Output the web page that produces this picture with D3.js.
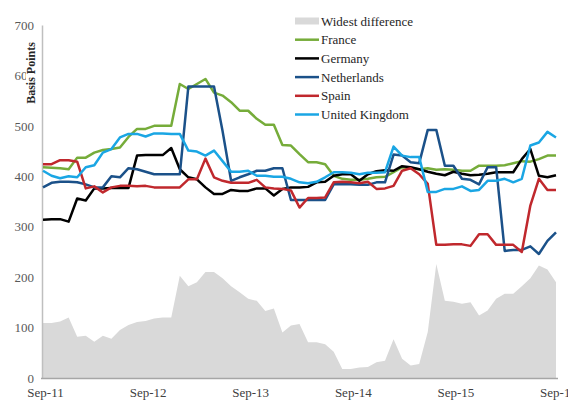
<!DOCTYPE html>
<html>
<head>
<meta charset="utf-8">
<script src="https://cdn.jsdelivr.net/npm/d3@7"></script>
<style>
  body { margin: 0; background: #fff; }
  svg text { font-family: "Liberation Serif", "DejaVu Serif", serif; }
</style>
</head>
<body>
<div id="container"></div>
<script>
// monthly values, Sep-11 .. Sep-16 (61 points), basis points
const tickLabels = ["Sep-11", "Sep-12", "Sep-13", "Sep-14", "Sep-15", "Sep-16"];
const tickMonths = [0, 12, 24, 36, 48, 60];
const yTicks = [0, 100, 200, 300, 400, 500, 600, 700];

const widest = [109,109,112,120,82,84,72,84,78,95, 105,111,113,118,120,120,203,182,190,210,
  210,198,182,170,157,153,133,138,90,104, 107,71,71,67,52,18,18,21,22,31,
  34,77,38,25,28,91,226,153,151,147, 150,124,134,157,167,167,182,198,223,215, 190];
const france = [418,417,416,414,437,437,447,452,454,457, 478,494,494,500,500,500,583,573,583,593,
  566,560,547,530,530,514,502,502,462,461, 444,428,428,424,401,395,393,393,395,398,
  399,408,418,416,414,416,413,414,413,411, 411,421,421,421,422,426,430,429,434,441, 441];
const germany = [314,315,315,310,356,352,376,376,377,377, 377,441,442,442,442,456,414,398,394,378,
  365,365,373,371,371,376,376,362,375,378, 378,379,388,389,401,404,404,391,404,410,
  412,411,420,418,414,409,405,402,409,405, 402,403,405,408,408,408,434,454,401,398, 402];
const netherlands = [378,387,389,389,388,384,378,378,400,398, 416,414,409,404,404,404,404,578,578,578,
  578,490,391,398,404,411,411,416,416,353, 353,353,353,353,384,384,384,383,383,388,
  388,443,441,428,426,492,492,421,421,395, 393,384,418,418,252,254,254,261,246,272, 289];
const spain = [424,424,432,432,429,376,380,368,378,381, 381,380,381,378,378,378,378,394,394,435,
  398,391,387,387,387,393,378,376,375,372, 338,357,357,358,388,389,388,386,389,375,
  376,381,411,416,404,385,264,264,265,265, 262,285,285,264,264,264,250,342,395,373, 373];
const uk = [411,401,396,400,398,418,422,447,454,477, 484,484,479,485,485,484,484,451,449,441,
  451,430,409,409,411,401,401,399,399,395, 388,386,389,398,408,408,407,404,407,407,
  408,459,441,438,438,369,369,375,375,380, 371,373,391,391,395,388,395,461,467,488, 477];

const seriesNames = ["France", "Germany", "Netherlands", "Spain", "United Kingdom"];
const seriesData = [france, germany, netherlands, spain, uk];
const seriesColors = ["#76AC3A", "#000000", "#1B5189", "#C0282D", "#1AA6E4"];

const W = 568, H = 402;
const svg = d3.select("#container").append("svg")
  .attr("width", W).attr("height", H);

const x = d3.scaleLinear().domain([0, 60]).range([43, 556]);
const y = d3.scaleLinear().domain([0, 700]).range([378, 25]);

// shaded area
const area = d3.area()
  .x((d, i) => x(i))
  .y0(y(0))
  .y1(d => y(d));

svg.append("path")
  .datum(widest)
  .attr("d", area)
  .attr("fill", "#D9D9D9");

// axes
const yAxis = svg.append("g")
  .attr("transform", "translate(42,0)")
  .call(d3.axisLeft(y).tickValues(yTicks).tickSize(0).tickPadding(8));
yAxis.select(".domain").attr("stroke", "#BFBFBF").attr("stroke-width", 1.5);
yAxis.selectAll("text")
  .style("font-size", "13px")
  .attr("fill", "#595959");

const xAxis = svg.append("g")
  .attr("transform", "translate(0,378.5)")
  .call(d3.axisBottom(x).tickValues(tickMonths)
    .tickFormat((d, i) => tickLabels[i])
    .tickSize(0).tickPadding(9));
xAxis.select(".domain").attr("stroke", "#A6A6A6").attr("stroke-width", 1.5)
  .attr("d", "M41,0H558");
xAxis.selectAll("text")
  .style("font-size", "13px")
  .attr("dx", 2)
  .attr("fill", "#404040");

// lines
const line = d3.line()
  .x((d, i) => x(i))
  .y(d => y(d));

seriesData.forEach((s, k) => {
  svg.append("path")
    .datum(s)
    .attr("d", line)
    .attr("fill", "none")
    .attr("stroke", seriesColors[k])
    .attr("stroke-width", 2.5)
    .attr("stroke-linejoin", "round");
});

// axis title over the 600 label
svg.append("rect")
  .attr("x", 26).attr("y", 36)
  .attr("width", 12).attr("height", 74)
  .attr("fill", "#fff");
svg.append("text")
  .attr("transform", "translate(35,73) rotate(-90)")
  .attr("text-anchor", "middle")
  .style("font-size", "12px")
  .style("font-weight", "bold")
  .attr("fill", "#262626")
  .text("Basis Points");

// legend
const lg = svg.append("g").attr("transform", "translate(295,0)");
const rowY = d3.range(6).map(i => 21 + i * 18.7);

lg.append("rect")
  .attr("x", 0).attr("y", rowY[0] - 3.5)
  .attr("width", 24).attr("height", 7)
  .attr("fill", "#D9D9D9");
lg.append("text")
  .attr("x", 26).attr("y", rowY[0] + 4.5)
  .style("font-size", "13px")
  .attr("fill", "#262626")
  .text("Widest difference");

seriesNames.forEach((n, k) => {
  const yy = rowY[k + 1];
  lg.append("line")
    .attr("x1", 0).attr("x2", 24)
    .attr("y1", yy).attr("y2", yy)
    .attr("stroke", seriesColors[k])
    .attr("stroke-width", 2.5);
  lg.append("text")
    .attr("x", 26).attr("y", yy + 4.5)
    .style("font-size", "13px")
    .attr("fill", "#262626")
    .text(n);
});
</script>
</body>
</html>
